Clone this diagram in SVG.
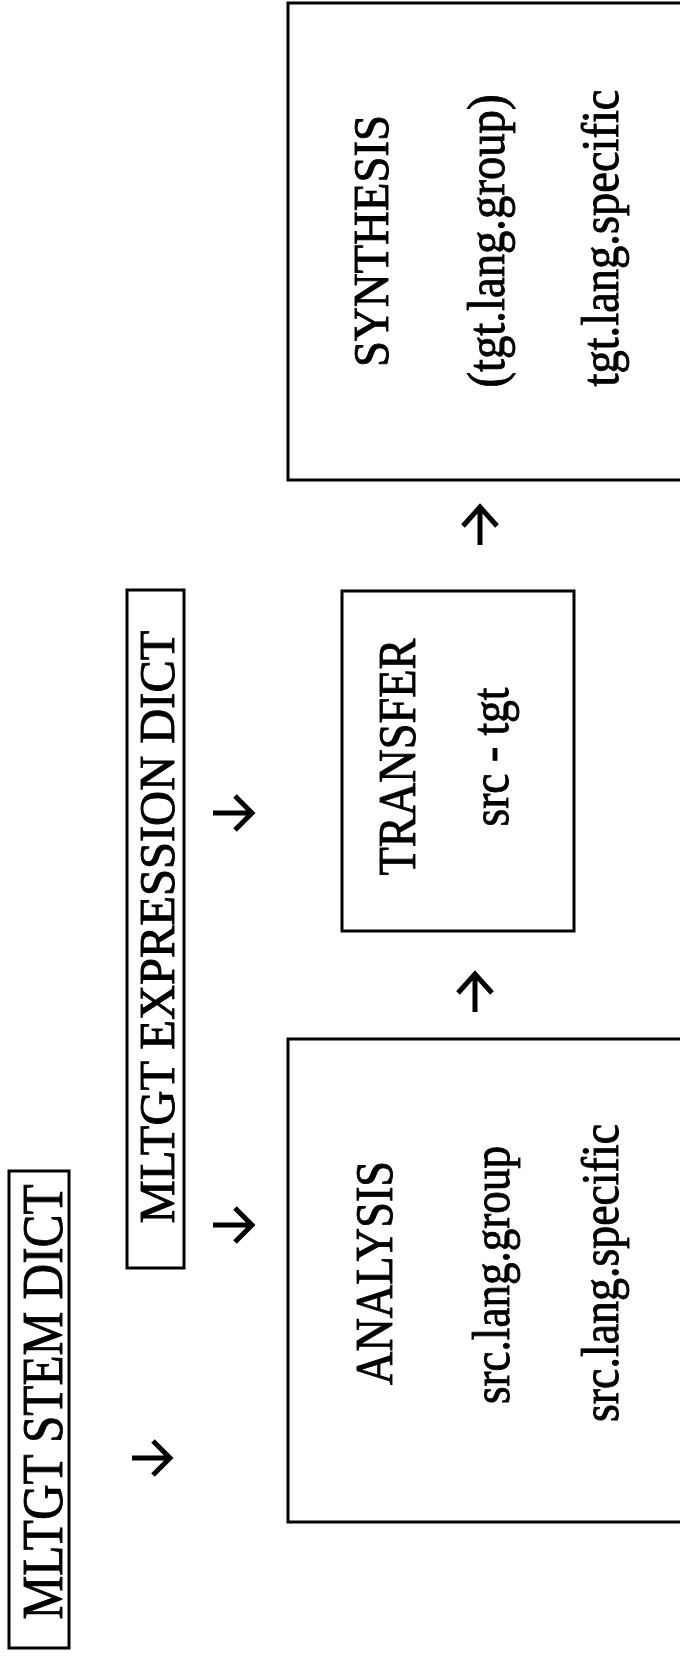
<svg xmlns="http://www.w3.org/2000/svg" width="680" height="1659" viewBox="0 0 680 1659">
<style>
.box{fill:none;stroke:#000;stroke-width:3}
.t{font-family:"Liberation Serif","Times New Roman",serif;fill:#000;stroke:#000;stroke-width:0.9;text-anchor:middle}
.arr{fill:none;stroke:#000;stroke-width:5;stroke-linecap:butt;stroke-linejoin:miter}
</style>
<rect width="680" height="1659" fill="#fff"/>
<g id="stem-dict">
<rect class="box" x="9" y="1171" width="60" height="477"/>
<text class="t" font-size="57" textLength="435" lengthAdjust="spacingAndGlyphs" transform="translate(62,1402) rotate(-90)">MLTGT STEM DICT</text>
</g>
<g id="expression-dict">
<rect class="box" x="127" y="590" width="57" height="678"/>
<text class="t" font-size="51" textLength="593" lengthAdjust="spacingAndGlyphs" transform="translate(174,927) rotate(-90)">MLTGT EXPRESSION DICT</text>
</g>
<g id="transfer">
<rect class="box" x="342" y="591" width="232" height="340"/>
<text class="t" font-size="52" textLength="237" lengthAdjust="spacingAndGlyphs" transform="translate(415,757) rotate(-90)">TRANSFER</text>
<text class="t" font-size="52" textLength="139" lengthAdjust="spacingAndGlyphs" transform="translate(508,757) rotate(-90)">src - tgt</text>
</g>
<g id="analysis">
<rect class="box" x="288" y="1039" width="400" height="483"/>
<text class="t" font-size="52" textLength="224" lengthAdjust="spacingAndGlyphs" transform="translate(392,1273) rotate(-90)">ANALYSIS</text>
<text class="t" font-size="52" textLength="258" lengthAdjust="spacingAndGlyphs" transform="translate(509,1275) rotate(-90)">src.lang.group</text>
<text class="t" font-size="52" textLength="298" lengthAdjust="spacingAndGlyphs" transform="translate(618,1273) rotate(-90)">src.lang.specific</text>
</g>
<g id="synthesis">
<rect class="box" x="288" y="3" width="400" height="477"/>
<text class="t" font-size="50" textLength="252" lengthAdjust="spacingAndGlyphs" transform="translate(388,241) rotate(-90)">SYNTHESIS</text>
<text class="t" font-size="52" textLength="293" lengthAdjust="spacingAndGlyphs" transform="translate(504,241) rotate(-90)">(tgt.lang.group)</text>
<text class="t" font-size="52" textLength="297" lengthAdjust="spacingAndGlyphs" transform="translate(618,238) rotate(-90)">tgt.lang.specific</text>
</g>
<g id="connectors">
<path class="arr" d="M132,1458 H170 M153,1441 L170,1458 L153,1475"/>
<path class="arr" d="M213,813 H252 M235,796 L252,813 L235,830"/>
<path class="arr" d="M213,1225 H252 M235,1208 L252,1225 L235,1242"/>
<path class="arr" d="M480,545 V507 M463,526 L480,507 L497,526"/>
<path class="arr" d="M475,1012 V974 M458,993 L475,974 L492,993"/>
</g>
</svg>
